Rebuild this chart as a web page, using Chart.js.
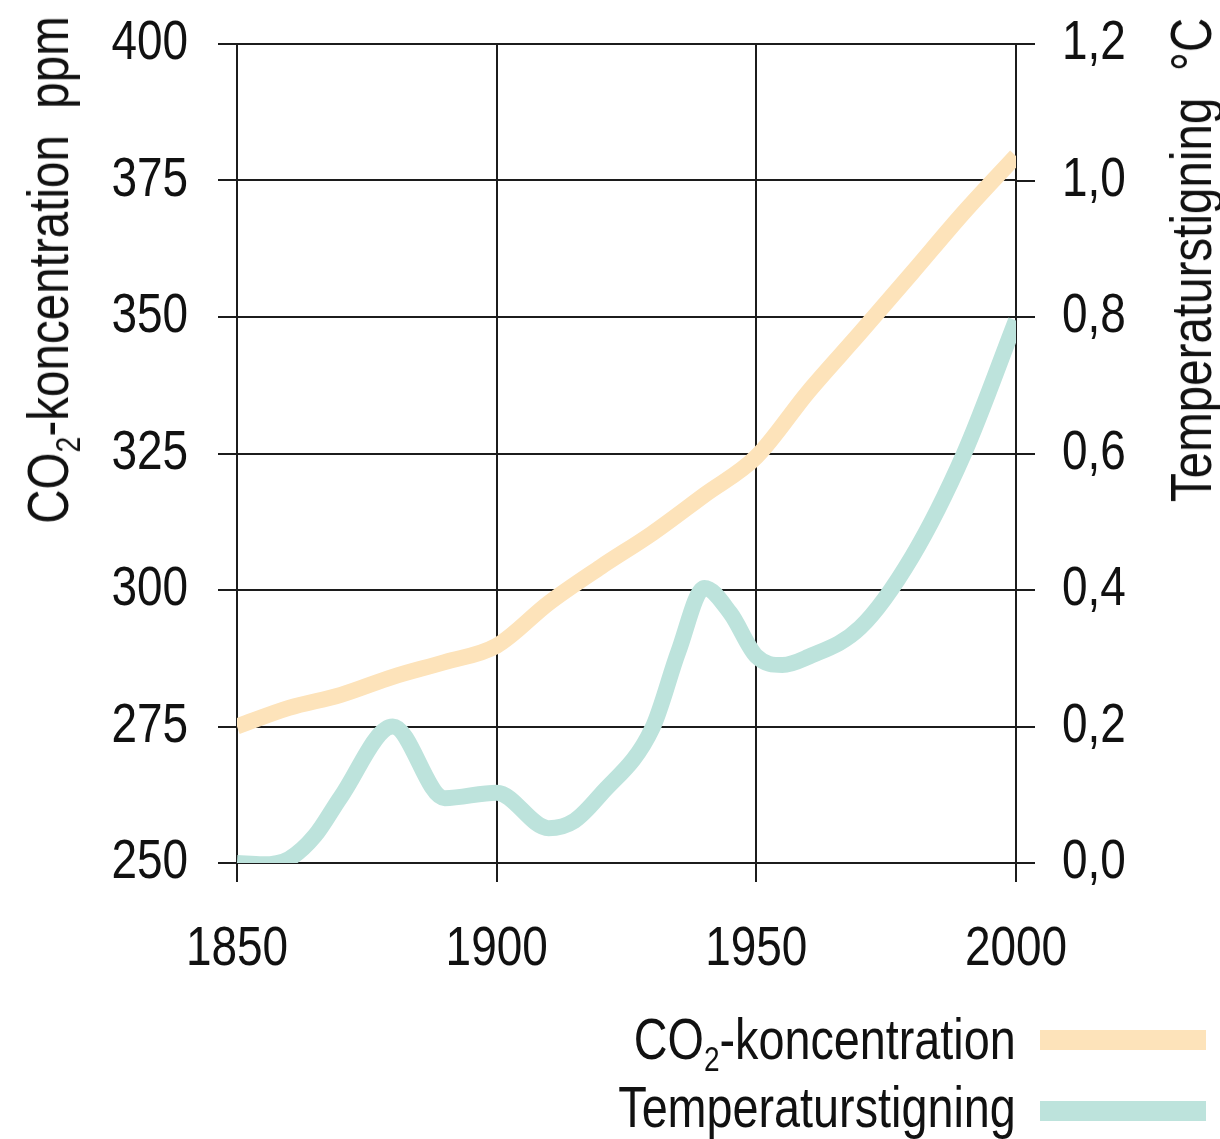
<!DOCTYPE html>
<html lang="da">
  <head>
    <meta charset="UTF-8" />
    <script src="https://cdn.jsdelivr.net/npm/chart.js@4.4.1/dist/chart.umd.min.js"></script>
    <title>CO2 og temperatur</title>
    <style>
      body { margin: 0; background: #fff; }
      #wrap {
        position: relative; width: 1220px; height: 1139px;
        font-family: "Liberation Sans", Arial, sans-serif;
        color: #111;
      }
      .ytitle {
        position: absolute; white-space: nowrap; font-size: 58px; line-height: 1;
        transform: translate(-50%, -50%) rotate(-90deg) scaleX(0.82);
      }
      sub { font-size: 0.6em; vertical-align: baseline; position: relative; top: 0.35em; }
      .lgtext {
        position: absolute; right: 204px; white-space: nowrap; font-size: 57px; line-height: 1;
        transform: scaleX(0.82); transform-origin: right center;
      }
      .lgbox { position: absolute; left: 1040px; width: 166px; height: 20px; }
    </style>
  </head>
  <body>
    <div id="wrap">
      <canvas id="myChart" width="1220" height="1139"></canvas>
      <div class="ytitle" style="left: 48px; top: 270px">CO<sub>2</sub>-koncentration&nbsp;&nbsp;ppm</div>
      <div class="ytitle" style="left: 1191px; top: 260px">Temperaturstigning&nbsp;&nbsp;°C</div>
      <div id="legend"></div>
    </div>
    <script>
      const co2Years = [1850, 1860, 1870, 1880, 1890, 1900, 1910, 1920, 1930, 1940, 1950, 1960, 1970, 1980, 1990, 2000];
      const co2Ppm = [275, 278.4, 280.8, 284.1, 286.8, 289.8, 297.6, 304.2, 310.4, 317.4, 324.4, 336.3, 347.1, 358.1, 369.2, 379.5];

      const tempYears = [1850, 1855, 1860, 1865, 1870, 1880, 1890, 1900, 1910, 1915, 1920, 1930, 1935, 1940, 1945, 1950, 1955, 1960, 1970, 1980, 1990, 2000];
      const tempRise = [0.0, -0.002, 0.006, 0.04, 0.097, 0.2, 0.095, 0.103, 0.051, 0.062, 0.1, 0.198, 0.31, 0.403, 0.366, 0.303, 0.29, 0.302, 0.345, 0.449, 0.6, 0.795];

      const seriesNames = ["CO<sub>2</sub>-koncentration", "Temperaturstigning"];
      const seriesColors = ["#fde3ba", "#bde3dc"];

      const gridColor = "#1c1c1c";
      const tickFont = { size: 56 };

      function pts(xs, ys) {
        return xs.map((x, i) => ({ x: x, y: ys[i] }));
      }

      // keep the y axes from pushing the plot down
      function yFit(width) {
        return (s) => {
          s.width = width;
          s.paddingTop = 0;
          s.paddingBottom = 0;
        };
      }

      const ctx = document.getElementById("myChart").getContext("2d");

      // no narrow font installed: squeeze the canvas text like Arial Narrow
      const rawFill = ctx.fillText.bind(ctx);
      ctx.fillText = function (text, x, y) {
        rawFill(text, x, y, ctx.measureText(text).width * 0.82);
      };

      Chart.defaults.font.family = '"Liberation Sans", Arial, sans-serif';
      Chart.defaults.color = "#111";

      const myChart = new Chart(ctx, {
        type: "line",
        data: {
          datasets: [
            {
              label: "CO2-koncentration",
              data: pts(co2Years, co2Ppm),
              yAxisID: "y",
              borderColor: seriesColors[0],
              borderWidth: 16,
              pointRadius: 0,
              cubicInterpolationMode: "monotone",
              clip: 0,
            },
            {
              label: "Temperaturstigning",
              data: pts(tempYears, tempRise),
              yAxisID: "y2",
              borderColor: seriesColors[1],
              borderWidth: 16,
              pointRadius: 0,
              cubicInterpolationMode: "monotone",
              clip: 0,
            },
          ],
        },
        options: {
          responsive: false,
          animation: false,
          layout: { padding: { top: 44, left: 0, right: 0, bottom: 0 } },
          plugins: { legend: { display: false }, tooltip: { enabled: false } },
          scales: {
            x: {
              type: "linear",
              min: 1850,
              max: 2000,
              afterFit: (s) => { s.height = 276; },
              ticks: { stepSize: 50, font: tickFont, padding: 34, callback: (v) => String(v) },
              grid: { color: gridColor, lineWidth: 2, tickLength: 19 },
              border: { color: gridColor, width: 2 },
            },
            y: {
              position: "left",
              min: 250,
              max: 400,
              afterFit: yFit(237),
              ticks: { stepSize: 25, font: tickFont, padding: 30 },
              grid: { color: gridColor, lineWidth: 2, tickLength: 19 },
              border: { color: gridColor, width: 2 },
            },
            y2: {
              position: "right",
              min: 0,
              max: 1.2,
              afterFit: yFit(204),
              ticks: {
                stepSize: 0.2,
                font: tickFont,
                padding: 27,
                callback: (v) => v.toFixed(1).replace(".", ","),
              },
              grid: { drawOnChartArea: false, color: gridColor, lineWidth: 2, tickLength: 19 },
              border: { color: gridColor, width: 2 },
            },
          },
        },
      });

      // legend: text left of a colour bar
      const lg = document.getElementById("legend");
      const rowBase = [1062, 1130];
      const rowMid = [1040, 1111];
      seriesNames.forEach((name, i) => {
        const t = document.createElement("div");
        t.className = "lgtext";
        t.style.top = rowBase[i] - 51 + "px";
        t.innerHTML = name;
        lg.appendChild(t);
        const b = document.createElement("div");
        b.className = "lgbox";
        b.style.top = rowMid[i] - 10 + "px";
        b.style.background = seriesColors[i];
        lg.appendChild(b);
      });
    </script>
  </body>
</html>
